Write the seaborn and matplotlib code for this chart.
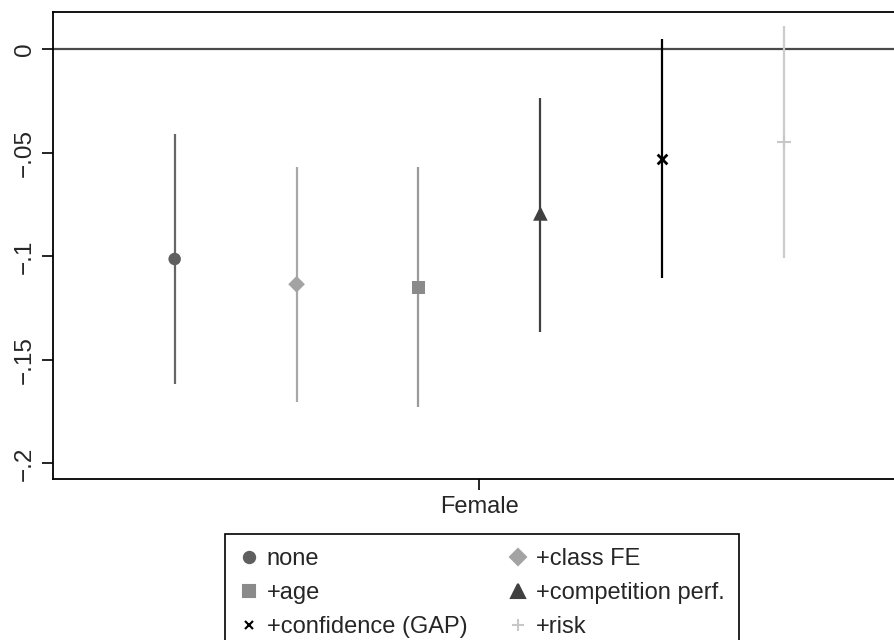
import numpy as np
import pandas as pd
import matplotlib
matplotlib.use("Agg")
import matplotlib.pyplot as plt
from matplotlib.lines import Line2D
import seaborn as sns

# coefficient on Female across specifications
models = ["none", "+class FE", "+age", "+competition perf.", "+confidence (GAP)", "+risk"]
coef = [-0.1013, -0.1135, -0.1150, -0.0793, -0.0530, -0.0449]
ci_lo = [-0.1617, -0.1702, -0.1730, -0.1366, -0.1103, -0.1007]
ci_hi = [-0.0409, -0.0567, -0.0567, -0.0234, 0.0050, 0.0111]
colors = ["#5f5f5f", "#a3a3a3", "#8a8a8a", "#404040", "#000000", "#c8c8c8"]
line_colors = ["#666666", "#a8a8a8", "#9a9a9a", "#404040", "#000000", "#cccccc"]
markers = ["o", "D", "s", "^", "x", "+"]
msizes = [9, 8.5, 9, 10.5, 7, 10]
yticks = [0, -0.05, -0.1, -0.15, -0.2]
ytick_labels = ["0", "\u2212.05", "\u2212.1", "\u2212.15", "\u2212.2"]


def main():
    sns.set_theme(style="white")
    plt.rcParams["font.family"] = ["Liberation Sans", "DejaVu Sans"]

    df = pd.DataFrame({"model": models, "coef": coef, "lo": ci_lo, "hi": ci_hi})
    df["x"] = np.arange(1, len(models) + 1)

    fig = plt.figure(figsize=(8.94, 6.4), dpi=100)
    ax = fig.add_axes([0.059, 0.251, 0.945, 0.731])

    ax.axhline(0, color="#4a4a4a", lw=1.6, zorder=1)

    for i, row in df.iterrows():
        ax.vlines(row["x"], row["lo"], row["hi"], color=line_colors[i], lw=1.6, zorder=2)

    for i, m in enumerate(models):
        sub = df[df["model"] == m]
        lw = 2.0 if markers[i] == "x" else (1.5 if markers[i] == "+" else 0)
        sns.scatterplot(data=sub, x="x", y="coef", color=colors[i], marker=markers[i],
                        s=msizes[i] ** 2, linewidth=lw,
                        edgecolor=colors[i] if lw else "none", ax=ax, zorder=3, legend=False)

    ax.set_xlim(0, 6.93)
    ax.set_ylim(-0.2077, 0.0182)
    ax.set_yticks(yticks)
    ax.set_yticklabels(ytick_labels, rotation=90, va="center", fontsize=17.5)
    ax.set_xticks([3.5])
    ax.set_xticklabels(["Female"], fontsize=17)
    ax.set_xlabel("")
    ax.set_ylabel("")
    ax.tick_params(axis="both", direction="out", length=8, width=1.2, color="black",
                   left=True, bottom=True, pad=4)
    for s in ax.spines.values():
        s.set_color("black")
        s.set_linewidth(1.3)

    order = [0, 2, 4, 1, 3, 5]
    handles = []
    for i in order:
        handles.append(Line2D([], [], linestyle="none", marker=markers[i], color=colors[i],
                              markersize=msizes[i] * 0.9,
                              markeredgewidth=1.5,
                              label=models[i]))
    leg = fig.legend(handles=handles, ncol=2, loc="upper center",
                     bbox_to_anchor=(0.539, 0.1656), fontsize=17, frameon=True,
                     fancybox=False, edgecolor="black", handlelength=0.8,
                     handletextpad=0.35, columnspacing=1.75, labelspacing=0.5,
                     borderpad=0.6, borderaxespad=0, markerfirst=True)
    leg.get_frame().set_linewidth(1.2)
    leg.get_frame().set_facecolor("white")
    leg.get_frame().set_alpha(1)

    fig.savefig("out.png", dpi=100)
    plt.close(fig)


if __name__ == "__main__":
    main()
